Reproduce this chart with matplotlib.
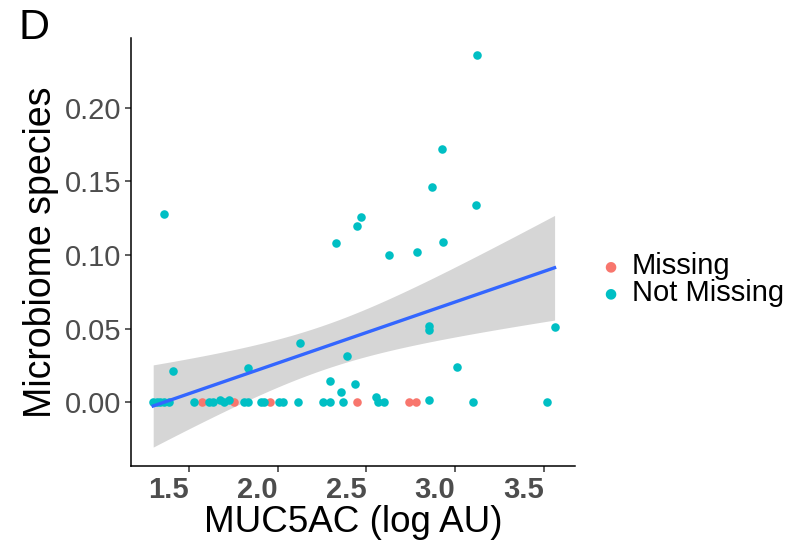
import numpy as np
import matplotlib
matplotlib.use("Agg")
import matplotlib.pyplot as plt

plt.rcParams['font.family'] = ['Liberation Sans', 'DejaVu Sans']

# MUC5AC level (log AU) and microbiome species abundance, per sample group
missing_x = [1.575, 1.757, 1.958, 2.446, 2.738, 2.778]
missing_y = [0.0, 0.0, 0.0, 0.0, 0.0, 0.0]

not_missing_x = [1.362, 2.468, 2.446, 2.330, 2.626, 2.785, 2.930, 3.120, 3.123,
                 2.927, 2.868, 3.560, 2.855, 2.855, 2.124, 2.394, 3.008, 1.414,
                 1.832, 2.297, 2.360, 2.435, 2.557, 2.855, 1.674, 1.724,
                 1.300, 1.320, 1.340, 1.360, 1.390, 1.530, 1.613, 1.635, 1.700,
                 1.810, 1.832, 1.905, 1.925, 2.010, 2.030, 2.113, 2.256, 2.297,
                 2.368, 2.565, 2.598, 3.100, 3.516]
not_missing_y = [0.128, 0.126, 0.120, 0.108, 0.100, 0.102, 0.109, 0.134, 0.236,
                 0.172, 0.146, 0.051, 0.052, 0.049, 0.040, 0.031, 0.024, 0.021,
                 0.023, 0.014, 0.007, 0.012, 0.0035, 0.0017, 0.0017, 0.0012,
                 0.0, 0.0, 0.0, 0.0, 0.0, 0.0, 0.0, 0.0, 0.0,
                 0.0, 0.0, 0.0, 0.0, 0.0, 0.0, 0.0, 0.0, 0.0,
                 0.0, 0.0, 0.0, 0.0, 0.0]

group_labels = ["Missing", "Not Missing"]
group_colors = ["#F8766D", "#00BFC4"]

x_ticks = [1.5, 2.0, 2.5, 3.0, 3.5]
y_ticks = [0.00, 0.05, 0.10, 0.15, 0.20]

# Linear fit over the observed ("Not Missing") samples with a 95% confidence band
x_fit = np.array(not_missing_x)
y_fit = np.array(not_missing_y)
n = len(x_fit)
X = np.column_stack([np.ones(n), x_fit])
beta, *_ = np.linalg.lstsq(X, y_fit, rcond=None)
resid = y_fit - X @ beta
sigma2 = resid @ resid / (n - 2)
XtX_inv = np.linalg.inv(X.T @ X)
xs = np.linspace(x_fit.min(), x_fit.max(), 80)
Xs = np.column_stack([np.ones_like(xs), xs])
fit = Xs @ beta
se = np.sqrt(sigma2 * np.einsum('ij,jk,ik->i', Xs, XtX_inv, Xs))
t_crit = 2.012  # t quantile 0.975, ~47 df
lo, hi = fit - t_crit * se, fit + t_crit * se

fig = plt.figure(figsize=(8.01, 5.46), dpi=100)
ax = fig.add_axes([131 / 801, 1 - 466 / 546, (575 - 131) / 801, (466 - 38) / 546])

ax.fill_between(xs, lo, hi, color="#999999", alpha=0.4, linewidth=0, zorder=1)
ax.scatter(missing_x, missing_y, s=38, color=group_colors[0], linewidths=0, zorder=2)
ax.scatter(not_missing_x, not_missing_y, s=38, color=group_colors[1], linewidths=0, zorder=2)
ax.plot(xs, fit, color="#3366FF", linewidth=2.4, zorder=3)

ax.set_xlim(1.175, 3.675)
ax.set_ylim(-0.0435, 0.2476)
ax.set_xticks(x_ticks)
ax.set_xticklabels([f"{v:.1f}" for v in x_ticks], fontweight="bold", ha="right")
ax.set_yticks(y_ticks)
ax.set_yticklabels([f"{v:.2f}" for v in y_ticks])

for side in ["top", "right"]:
    ax.spines[side].set_visible(False)
for side in ["left", "bottom"]:
    ax.spines[side].set_linewidth(1.1)
    ax.spines[side].set_color("black")

ax.tick_params(axis="both", length=4, width=1.1, color="#333333",
               labelcolor="#4D4D4D", labelsize=21)
ax.tick_params(axis="x", pad=3)
ax.tick_params(axis="y", pad=3)

ax.set_xlabel("MUC5AC (log AU)", fontsize=26.5, labelpad=1)
ax.set_ylabel("Microbiome species", fontsize=27, labelpad=4)

# Legend
for i, (lab, col) in enumerate(zip(group_labels, group_colors)):
    yy = 1 - (266 + 27 * i) / 546
    fig.text(610 / 801, yy, "\u25CF", color=col, fontsize=10,
             ha="center", va="center", family="DejaVu Sans")
    fig.text(632 / 801, yy, lab, color="black", fontsize=21, ha="left", va="center")

fig.text(18 / 801, 1 - 28 / 546, "D", fontsize=31, ha="left", va="center")

fig.savefig("out.png", dpi=100)
